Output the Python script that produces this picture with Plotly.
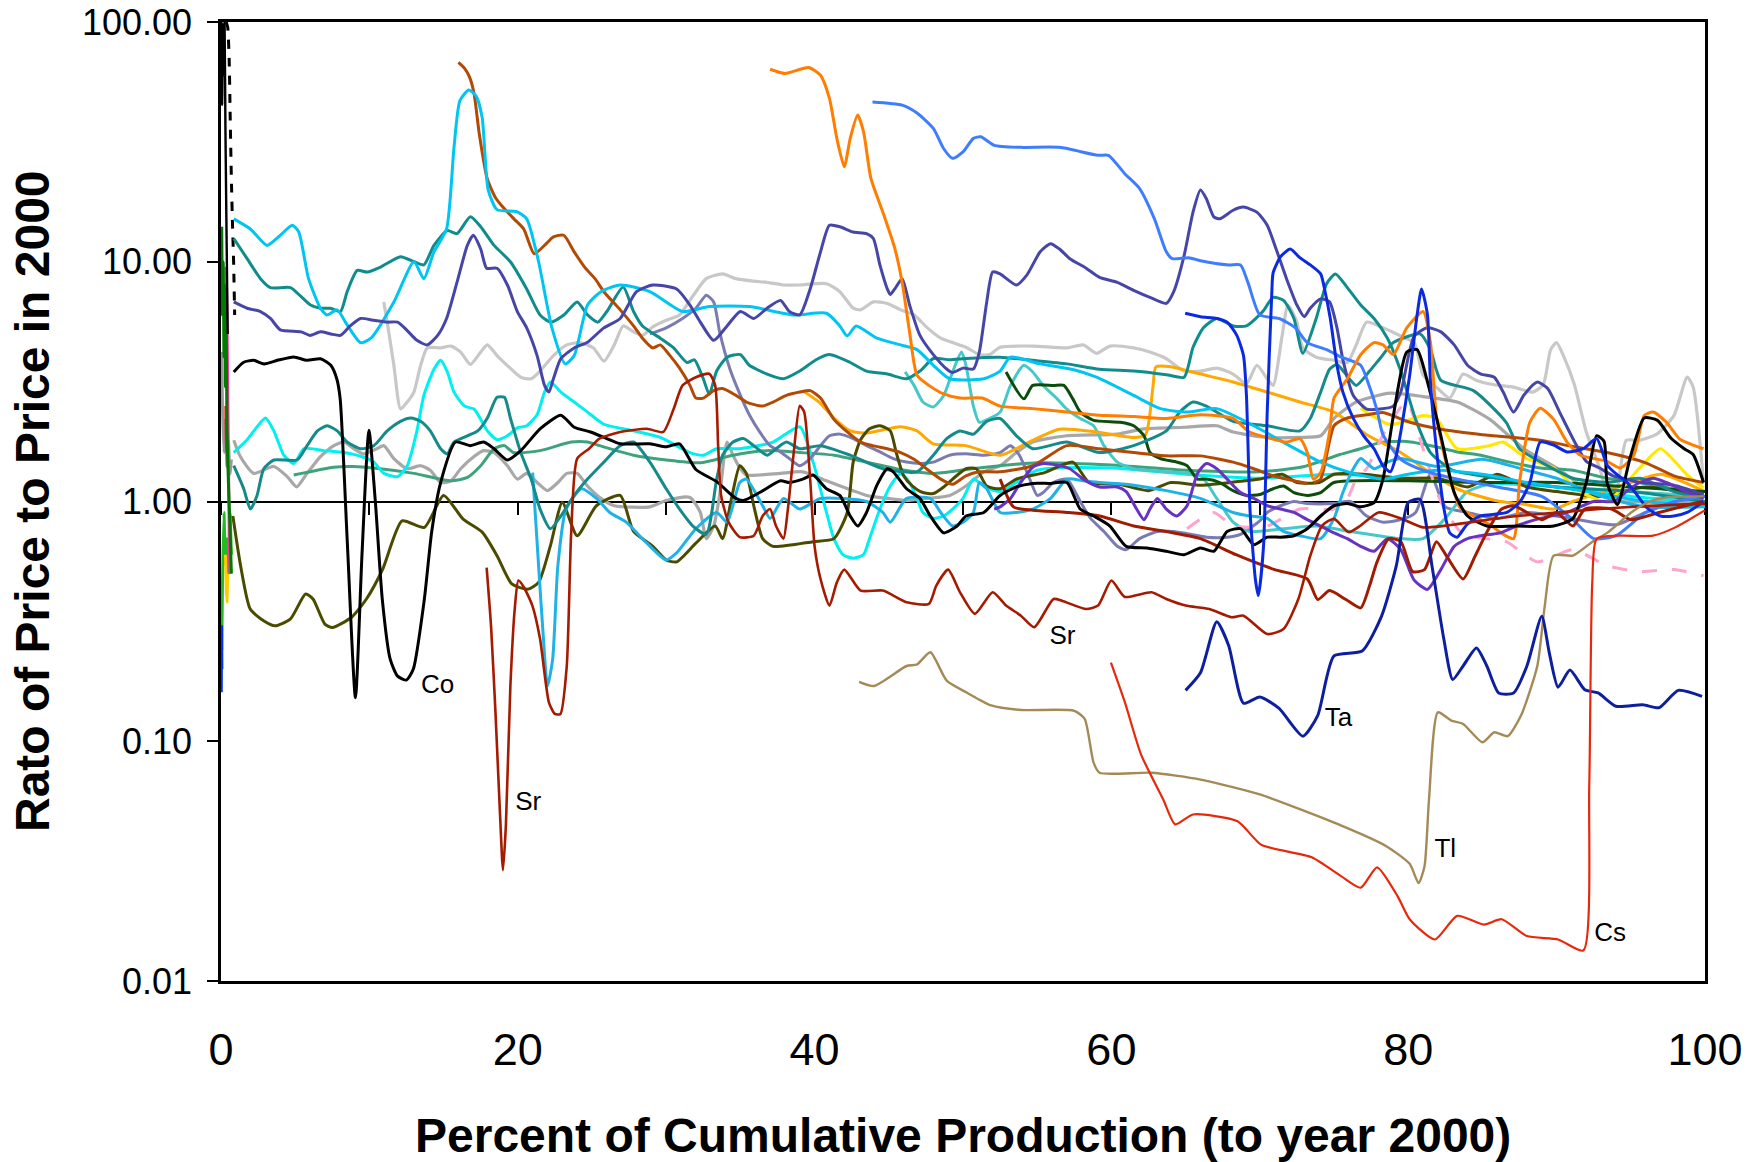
import plotly.graph_objects as go

# Each series: list of (percent of cumulative production, price / price in 2000)

co = [(0.86,3.47),(1.53,3.81),(2.2,3.88),(2.9,3.75),(3.8,3.88),(4.9,4.01),(5.8,3.88),(6.7,3.94),(7.4,3.70),(7.8,3.25),
      (8.03,2.68),(8.5,0.7),(9.06,0.152),(9.5,0.6),(9.97,1.98),(10.4,1.0),(10.87,0.39),(11.4,0.22),(11.9,0.187),(12.5,0.18),
      (12.96,0.2),(13.7,0.39),(14.2,0.75),(14.8,1.2),(15.8,1.77),(16.8,1.71),(17.7,1.77),(18.4,1.66),(19.3,1.49),(20.2,1.63),
      (21.5,2.01),(22.9,2.29),(23.8,2.04),(24.9,1.95),(26.0,1.83),(26.9,1.74),(28.9,1.74),(30.0,1.69),(30.9,1.74),(32.0,1.36),
      (33.4,1.21),(34.7,1.03),(35.2,1.01),(36.3,1.09),(37.7,1.22),(38.3,1.20),(39.2,1.24),(39.9,1.29),(40.8,1.13),(41.7,1.06),
      (42.4,0.87),(42.9,0.79),(43.5,0.90),(44.2,1.17),(44.9,1.37),(45.3,1.33),(46.2,1.13),(47.1,1.03),(47.8,0.87),(48.7,0.74),
      (49.6,0.79),(50.2,0.87),(51.4,0.90),(52.5,1.06),(53.6,1.15),(54.7,1.19),(55.9,1.19),(57.0,1.20),(57.9,0.93),(58.8,0.87),
      (59.9,0.79),(61.0,0.65),(62.4,0.64),(63.7,0.62),(64.9,0.60),(66.0,0.64),(66.9,0.62),(67.8,0.75),(68.7,0.77),(69.6,0.66),
      (70.5,0.71),(71.4,0.71),(72.3,0.72),(73.2,0.77),(74.1,0.87),(75.0,0.96),(75.9,0.98),(76.8,0.95),(77.7,0.99),(78.3,1.24),
      (79.0,2.28),(79.9,4.2),(80.6,4.3),(81.3,3.15),(82.2,1.88),(83.1,1.09),(84.0,0.87),(85.3,0.79),(87.3,0.79),(89.8,0.79),
      (91.1,0.85),(92.0,1.2),(92.7,1.88),(93.2,1.78),(93.4,1.2),(94.1,0.97),(95.0,1.56),(95.9,2.23),(96.8,2.18),(97.7,1.84),
      (98.6,1.66),(99.2,1.57),(99.9,1.2)]

sr = [(17.9,0.53),(18.2,0.3),(18.5,0.13),(18.8,0.05),(19.0,0.029),(19.2,0.045),(19.5,0.17),(19.8,0.36),(20.04,0.468),
      (20.4,0.44),(20.98,0.368),(21.5,0.267),(22.1,0.145),(22.5,0.13),(22.87,0.13),(23.3,0.206),(23.6,0.745),(24.0,1.51),
      (24.8,1.66),(25.5,1.83),(26.9,1.95),(28.7,2.01),(29.8,1.95),(30.5,2.43),(31.1,3.05),(32.0,3.30),(32.9,3.41),(33.3,3.05),
      (33.5,1.71),(33.7,1.06),(34.2,0.82),(34.96,0.71),(35.9,0.72),(36.5,0.87),(37.0,0.93),(37.4,0.79),(37.9,0.70),(38.2,0.93),
      (38.6,1.61),(39.0,2.51),(39.3,2.36),(39.7,1.24),(40.0,0.65),(40.4,0.475),(41.0,0.368),(41.5,0.46),(42.0,0.52),(43.1,0.425),
      (44.6,0.425),(46.2,0.38),(47.7,0.374),(48.2,0.446),(49.0,0.52),(49.8,0.418),(50.8,0.34),(52.0,0.418),(52.9,0.368),
      (53.9,0.334),(54.8,0.299),(56.1,0.392),(56.7,0.385),(58.3,0.356),(59.1,0.368),(60.0,0.468),(60.9,0.40),(62.7,0.418),
      (63.7,0.392),(65.0,0.368),(66.6,0.356),(68.1,0.329),(68.9,0.334),(70.5,0.28),(71.6,0.294),(72.6,0.392),(73.4,0.594),
      (74.2,0.794),(75.0,0.846),(76.0,0.745),(76.8,0.794),(78.0,0.9),(79.5,0.85),(81.0,0.78),(83.0,0.8),(86.0,0.85),(90.0,0.9),
      (95.0,0.95),(100.0,0.98)]

cs = [(59.97,0.213),(60.9,0.146),(62.0,0.088),(63.5,0.057),(64.3,0.045),(65.5,0.0495),(68.5,0.0464),(70.1,0.037),
      (73.5,0.0328),(75.5,0.0273),(76.8,0.0245),(77.9,0.0298),(79.3,0.0225),(80.1,0.0181),(81.8,0.0149),(83.3,0.0187),
      (85.1,0.0172),(86.3,0.0181),(88.0,0.0154),(90.1,0.0149),(91.8,0.0134),(92.2,0.065),(92.4,0.454),(92.7,0.70),
      (94.2,0.72),(96.5,0.72),(98.0,0.78),(100.0,0.92)]

tl = [(43.0,0.177),(44.0,0.170),(46.2,0.206),(46.9,0.209),(47.8,0.235),(48.9,0.179),(50.3,0.159),(51.9,0.141),(53.9,0.135),
      (57.5,0.134),(58.2,0.124),(58.8,0.0814),(59.2,0.0739),(62.7,0.0739),(66.0,0.0692),(70.0,0.060),(75.5,0.0445),
      (78.5,0.0366),(80.1,0.0308),(80.7,0.0256),(81.1,0.0301),(81.4,0.057),(82.0,0.132),(82.9,0.122),(83.7,0.118),
      (85.0,0.099),(85.8,0.109),(86.7,0.105),(87.6,0.128),(88.7,0.206),(89.2,0.366),(89.8,0.595),(91.1,0.595),(92.4,0.678),
      (93.5,0.747),(95.0,0.897),(96.1,0.99),(97.4,1.04),(99.9,1.05)]

ta = [(65.0,0.163),(66.0,0.193),(67.1,0.315),(67.9,0.251),(68.9,0.144),(70.0,0.153),(71.3,0.137),(72.9,0.105),(73.9,0.128),
      (75.0,0.227),(76.9,0.238),(78.2,0.332),(79.2,0.54),(80.0,0.99),(80.8,1.02),(81.6,0.54),(82.4,0.267),(83.0,0.181),
      (83.7,0.206),(84.6,0.245),(85.3,0.206),(86.1,0.159),(87.1,0.159),(88.0,0.206),(89.0,0.332),(89.5,0.235),(90.1,0.168),
      (90.9,0.198),(91.9,0.164),(92.8,0.159),(94.0,0.14),(95.8,0.142),(96.9,0.138),(98.2,0.163),(99.8,0.154)]

sky = [(0.86,15.1),(1.98,13.7),(3.1,11.7),(4.0,12.9),(4.8,14.2),(5.24,13.3),(5.9,8.5),(6.7,6.4),(7.15,6.0),(7.83,6.3),
       (8.5,5.45),(9.4,4.6),(10.1,4.8),(11.65,6.8),(13.0,10.0),(13.67,8.5),(14.35,11.0),(15.2,13.7),(15.7,30),(16.1,47),
       (16.7,52),(17.2,49),(17.6,40),(18.0,20),(18.6,16.5),(19.9,16.2),(20.6,15.1),(21.4,10),(22.3,5.3),(23.2,3.75),
       (23.8,4.06),(24.7,6.6),(25.6,7.5),(26.9,8.0),(28.9,7.5),(31.1,6.2),(32.9,6.5),(35.6,6.5),(38.6,6.0),(40.8,6.1),
       (41.7,5.4),(42.2,4.9),(42.8,5.4),(44.2,4.8),(45.8,4.5),(46.9,4.3),(48.0,3.7),(49.1,3.25),(51.4,3.25),(52.5,3.5),
       (53.2,4.0),(55.2,3.75),(57.4,3.55),(59.0,3.3),(61.5,2.77),(63.3,2.44),(65.1,2.36),(67.1,2.44),(69.6,2.07),(72.0,1.71),
       (74.1,1.46),(76.1,1.32),(78.3,1.24),(80.0,1.3),(82.0,1.35),(85.0,1.3),(88.0,1.2),(92.0,1.1),(96.0,1.0),(100.0,0.95)]

teal_hi = [(0.86,12.5),(1.76,10.3),(2.66,8.5),(3.33,7.8),(4.68,7.8),(5.35,7.2),(6.03,6.6),(6.7,6.4),(7.38,6.4),(8.05,6.2),
           (8.5,7.5),(9.18,9.2),(9.85,9.06),(10.75,9.5),(12.1,10.5),(13.0,10.0),(13.67,9.7),(14.35,11.7),(15.25,13.5),
           (15.9,13.1),(16.8,15.4),(17.5,14.0),(18.4,11.7),(19.5,10.0),(20.6,7.7),(21.5,6.0),(22.2,5.6),(23.1,6.0),(24.0,6.8),
           (24.7,6.0),(25.4,5.6),(26.0,6.2),(27.1,7.85),(27.8,6.2),(28.4,5.4),(29.6,4.8),(30.5,4.37),(31.4,3.8),(31.9,3.9),
           (32.5,3.25),(32.9,2.8),(33.4,3.5),(34.1,4.0),(35.0,4.1),(35.6,3.7),(36.8,3.4),(37.9,3.25),(39.0,3.5),(40.1,3.9),
           (41.0,4.1),(42.4,3.8),(43.5,3.5),(44.9,3.4),(46.2,3.25),(47.1,3.5),(48.0,3.95),(49.1,3.9),(50.2,3.95),(52.5,4.0),
           (54.7,3.88),(57.0,3.75),(59.2,3.56),(61.5,3.5),(63.7,3.38),(64.9,3.3),(65.5,4.4),(66.2,5.3),(67.1,5.8),(68.2,5.4),
           (69.1,5.4),(70.2,6.2),(70.9,7.1),(71.6,6.9),(72.3,5.8),(72.9,4.15),(73.8,5.8),(74.5,8.1),(75.1,8.9),(75.9,7.8),
           (76.8,6.6),(77.7,5.8),(78.6,4.8),(79.5,3.5),(80.5,2.2),(81.5,1.6),(83.0,1.35),(86.0,1.25),(90.0,1.15),(95.0,1.1),
           (100.0,1.0)]

teal_lo = [(0.86,1.41),(1.53,1.13),(1.98,0.93),(2.43,1.06),(2.88,1.37),(3.56,1.49),(5.13,1.49),(5.8,1.71),(6.5,1.97),
           (7.15,2.07),(7.83,1.97),(8.5,1.77),(9.4,1.66),(10.3,1.71),(11.2,1.97),(12.1,2.16),(12.8,2.23),(13.45,2.16),
           (14.1,1.97),(14.8,1.66),(15.25,1.58),(15.7,1.77),(17.3,1.97),(17.95,2.23),(18.6,2.72),(19.1,2.72),(19.5,2.23),
           (20.2,1.6),(20.9,1.24),(21.5,0.93),(22.2,0.77),(22.9,0.87),(23.8,1.06),(24.7,1.24),(25.8,1.46),(26.9,1.71),
           (27.8,1.77),(28.9,1.46),(30.0,1.13),(30.9,0.93),(31.8,0.79),(32.7,0.73),(33.4,1.24),(33.8,1.56),(34.5,1.77),
           (35.2,1.83),(35.9,1.71),(36.8,1.56),(37.4,1.66),(38.1,1.77),(39.0,1.66),(40.4,1.71),(42.4,1.56),(44.6,1.37),
           (46.9,1.33),(48.0,1.56),(48.9,1.83),(49.8,1.97),(50.7,1.91),(51.6,2.16),(52.5,2.22),(53.6,1.88),(54.7,1.66),
           (57.0,1.77),(59.2,1.6),(61.5,1.71),(63.7,1.97),(64.6,2.36),(65.5,2.6),(66.4,2.5),(68.2,2.16),(70.5,2.07),(72.7,1.97),
           (73.4,2.22),(74.1,2.86),(74.7,3.56),(75.2,3.73),(75.9,3.33),(76.5,3.05),(77.4,3.5),(78.1,3.95),(79.0,4.6),(80.8,5.0),
           (81.5,4.3),(82.2,3.2),(84.4,2.9),(86.6,2.14),(87.5,1.66),(89.4,1.41),(91.1,1.25),(93.4,1.2),(95.6,1.25),(97.9,1.1),
           (99.9,1.03)]

slate = [(0.86,6.8),(1.76,6.4),(2.66,6.2),(3.33,5.8),(4.0,5.2),(5.4,5.1),(6.0,4.93),(6.7,5.1),(7.4,5.0),(8.05,4.93),(8.7,5.4),
         (9.4,5.8),(10.3,5.7),(11.2,5.6),(11.9,5.6),(12.5,5.2),(13.2,4.7),(13.9,4.5),(14.6,4.93),(15.2,5.8),(15.9,8.2),
         (16.6,11.7),(17.0,12.9),(17.5,11.3),(17.9,9.4),(18.6,9.4),(19.3,8.0),(19.97,6.2),(20.6,5.3),(21.3,4.06),(21.8,3.05),
         (22.1,2.86),(22.4,3.25),(22.9,3.94),(23.8,4.37),(24.7,4.62),(25.8,5.3),(26.9,5.8),(28.0,7.5),(29.1,8.0),(30.7,7.7),
         (31.6,6.6),(32.3,5.6),(33.2,4.7),(34.1,5.4),(35.0,6.2),(35.9,5.8),(36.8,6.4),(37.7,6.9),(38.3,6.2),(39.0,6.0),
         (39.7,7.7),(40.4,11.0),(41.0,14.2),(41.7,14.0),(42.6,13.3),(43.5,13.1),(43.96,12.5),(44.4,9.7),(44.9,7.7),(45.1,7.3),
         (45.4,7.7),(45.9,8.5),(46.4,6.6),(47.1,4.93),(48.0,4.1),(48.9,3.57),(49.3,3.45),(50.0,3.6),(50.7,3.57),(51.1,4.2),
         (51.6,6.8),(52.0,9.06),(52.5,8.9),(53.6,8.0),(54.3,8.8),(55.2,11.0),(55.9,11.9),(56.5,11.3),(57.2,10.3),(58.3,9.4),
         (59.2,8.6),(60.4,8.2),(61.5,7.6),(62.6,7.1),(63.7,6.7),(64.2,7.5),(64.9,10.6),(65.5,16.1),(66.0,19.9),(66.4,18.3),
         (66.9,15.4),(67.3,15.1),(68.2,16.4),(68.9,16.9),(69.8,16.1),(70.5,14.2),(71.1,11.3),(71.8,8.5),(72.5,6.6),(73.0,5.9),
         (73.4,6.4),(74.1,7.0),(74.7,6.8),(75.2,5.3),(75.6,3.9),(76.3,2.77),(77.2,2.43),(78.1,2.43),(79.0,2.5),(79.5,2.86),
         (80.4,4.9),(81.3,5.3),(82.2,5.1),(83.1,4.5),(84.0,3.7),(84.9,3.4),(85.8,3.3),(86.4,2.86),(87.1,2.36),(87.8,2.78),
         (88.7,3.15),(89.4,2.96),(90.2,2.36),(91.2,1.78),(92.0,1.47),(92.9,1.38),(93.8,1.28),(94.7,1.24),(95.6,1.2),
         (97.9,1.17),(99.9,1.07)]

royal = [(43.9,46.4),(45.9,45.0),(46.9,41.7),(48.0,36.0),(48.7,29.6),(49.3,27.0),(50.0,28.7),(50.7,32.7),(51.2,33.2),
         (52.1,30.6),(53.9,30.0),(56.5,30.0),(59.1,27.8),(59.8,27.8),(60.9,23.3),(61.9,20.2),(62.9,15.1),(63.7,11.0),
         (64.1,10.3),(65.2,10.4),(66.0,10.1),(67.9,9.7),(68.7,9.7),(69.2,8.2),(70.0,6.0),(71.3,5.8),(72.4,5.3),(73.2,4.6),
         (74.5,4.3),(75.5,4.0),(76.8,3.7),(77.4,3.0),(77.9,2.4),(78.3,1.9),(79.5,1.5),(81.0,1.35),(83.0,1.25),(86.0,1.15),
         (89.0,1.05),(91.0,0.85),(92.5,0.7),(94.0,0.72),(96.0,0.9),(98.0,1.0),(100.0,1.05)]

orange = [(37.0,63.5),(38.0,61.0),(39.6,64.6),(40.4,60.0),(41.0,48.0),(41.5,32.7),(42.0,24.9),(42.4,32.7),(42.9,40.9),
          (43.3,34.8),(43.8,22.2),(44.6,16.1),(45.4,11.4),(45.9,8.2),(46.4,5.1),(46.9,3.36),(47.7,3.05),(48.7,2.81),
          (49.8,2.7),(51.3,2.7),(52.5,2.5),(54.7,2.44),(57.0,2.36),(59.2,2.29),(61.5,2.26),(63.7,2.22),(66.0,2.3),(68.2,2.22),
          (69.3,1.95),(70.5,1.85),(71.8,1.77),(72.7,1.83),(73.2,1.6),(73.6,1.24),(74.1,1.32),(74.7,1.95),(75.0,2.7),
          (75.9,3.25),(76.8,4.1),(77.7,4.6),(78.3,4.5),(79.0,4.1),(79.9,5.3),(81.0,6.2),(81.5,4.6),(81.9,2.28),(82.6,1.41),
          (83.5,0.94),(84.4,0.87),(85.5,0.80),(86.4,0.73),(87.1,0.70),(87.5,1.2),(88.2,2.14),(88.9,2.45),(89.8,2.2),
          (90.7,1.77),(91.6,1.56),(93.4,1.47),(94.3,1.38),(95.2,1.56),(95.9,2.28),(96.5,2.36),(97.4,2.14),(98.3,1.82),
          (99.2,1.72),(99.9,1.66)]

brown = [(16.0,67.8),(16.4,64.2),(16.75,58.9),(17.06,50),(17.4,34.3),(17.94,22.2),(18.5,18.5),(19.07,16.7),(19.74,15.1),
         (20.4,13.7),(21.1,10.8),(21.8,11.7),(22.4,12.7),(23.1,12.9),(23.8,11.0),(24.5,9.5),(25.2,8.5),(25.8,7.5),(26.9,6.3),
         (27.8,5.4),(28.4,4.8),(29.1,4.37),(29.6,4.5),(30.2,4.1),(30.9,3.6),(31.6,3.05),(32.0,2.7),(32.5,2.7),(33.2,2.9),
         (33.8,2.96),(34.7,2.77),(35.4,2.6),(36.5,2.5),(37.2,2.6),(38.1,2.77),(39.0,2.86),(39.7,2.9),(40.4,2.7),(41.3,2.2),
         (42.2,1.95),(43.1,1.77),(43.9,1.71),(44.9,1.66),(45.8,1.6),(46.7,1.5),(47.6,1.36),(48.5,1.24),(49.3,1.18),(50.2,1.28),
         (51.1,1.33),(52.5,1.33),(54.7,1.41),(57.0,1.71),(59.2,1.66),(61.5,1.6),(63.7,1.55),(66.0,1.55),(68.2,1.46),
         (69.6,1.37),(70.9,1.28),(72.3,1.22),(73.2,1.19)]

brown_b = [(73.6,1.2),(74.1,1.24),(75.0,2.07),(75.9,2.23),(77.2,2.3),(78.3,2.35),(80.0,2.15),(82.2,2.0),(85.0,1.9),
           (88.9,1.8),(91.0,1.7),(93.4,1.6),(96.0,1.45),(97.9,1.28),(99.9,1.2)]

silver = [(10.97,6.8),(11.2,5.6),(11.65,3.69),(12.1,2.43),(12.55,2.6),(13.0,2.86),(13.45,3.69),(13.9,4.37),(14.8,4.37),
          (15.5,4.45),(16.15,4.2),(16.8,3.73),(17.5,4.2),(17.95,4.5),(18.6,4.06),(19.3,3.69),(20.2,3.3),(20.9,3.25),(21.5,3.5),
          (22.4,4.06),(23.3,4.5),(24.2,4.6),(25.1,4.37),(25.8,3.85),(26.5,4.5),(27.1,5.4),(27.8,5.1),(28.4,4.93),(29.1,5.35),
          (30.0,5.7),(30.9,6.0),(31.8,7.2),(32.7,8.5),(33.8,8.9),(34.7,8.5),(35.9,8.3),(36.8,8.2),(37.9,8.0),(39.0,8.0),
          (40.8,8.1),(41.7,7.5),(42.6,6.4),(43.1,6.3),(43.96,6.8),(44.9,6.7),(45.8,6.3),(46.7,6.0),(47.6,5.3),(48.5,4.8),
          (49.3,4.6),(50.2,4.4),(51.1,4.1),(51.8,4.1),(52.5,4.4),(54.7,4.45),(57.0,4.37),(58.1,4.5),(59.0,4.15),(59.9,4.45),
          (61.5,4.37),(62.6,4.2),(63.7,3.94),(64.9,3.5),(66.0,3.5),(67.1,3.6),(68.2,3.4),(69.1,3.1),(69.8,3.7),(70.5,3.25),
          (70.9,3.05),(71.5,4.9),(71.9,6.6),(72.5,5.6),(72.9,4.37),(73.8,4.0),(75.0,3.88),(75.9,3.8),(76.5,4.5),(77.2,5.6),
          (78.3,5.3),(79.5,4.9),(80.4,4.6),(81.0,3.37),(81.9,3.0),(82.8,2.7),(83.7,3.4),(84.6,3.2),(85.8,3.07),(87.1,3.0),
          (88.4,2.86),(89.1,3.07),(89.6,4.3),(90.0,4.6),(90.5,4.0),(91.2,3.07),(92.0,1.95),(92.9,1.38),(93.6,1.0),(94.1,1.14),
          (94.7,1.8),(95.6,1.8),(96.8,1.92),(97.9,2.28),(98.8,3.3),(99.2,3.0),(99.9,1.2)]

gray = [(0.86,1.80),(1.3,1.54),(2.2,1.31),(3.56,1.40),(4.46,1.27),(5.1,1.15),(5.8,1.31),(6.7,1.54),(7.6,1.71),(8.3,1.77),
        (8.95,1.66),(9.6,1.58),(10.5,1.66),(10.97,1.71),(11.65,1.51),(12.55,1.37),(13.45,1.41),(14.1,1.35),(14.8,1.20),
        (15.5,1.22),(16.15,1.37),(17.05,1.54),(17.7,1.63),(18.4,1.60),(19.3,1.41),(19.97,1.24),(20.6,1.31),(21.3,1.2),
        (22.0,1.11),(22.7,1.2),(23.3,1.31),(24.0,1.31),(24.7,1.16),(25.6,1.03),(26.5,0.96),(28.9,0.95),(30.0,1.01),(31.6,1.04),
        (32.3,0.90),(32.7,0.70),(33.2,0.79),(33.6,1.06),(34.1,1.77),(34.5,1.56),(35.0,1.37),(35.4,1.29),(36.3,1.29),
        (37.7,1.31),(39.2,1.33),(40.8,1.22),(42.6,1.11),(43.5,1.06),(44.9,1.03),(46.2,1.01),(47.6,1.03),(49.1,1.06),
        (50.2,1.16),(51.4,1.33),(52.5,1.41),(53.6,1.6),(54.7,1.77),(57.0,1.88),(60.4,1.91),(62.2,2.01),(64.9,2.04),
        (67.1,2.07),(68.2,1.95),(70.5,1.85),(72.7,1.85),(74.1,1.88),(75.0,2.22),(76.5,2.6),(78.8,2.83),(81.0,2.74),(83.3,2.6),
        (85.5,2.2),(87.8,1.66),(90.0,1.38),(92.3,1.1),(94.5,1.0),(97.9,1.0),(99.9,0.97)]

aqua = [(0.86,1.6),(1.76,1.81),(2.43,2.05),(3.0,2.23),(3.56,1.97),(4.23,1.56),(4.9,1.44),(5.6,1.66),(6.9,1.63),(8.3,1.6),
        (9.6,1.53),(10.3,1.46),(10.97,1.31),(11.9,1.27),(12.55,1.41),(13.2,1.97),(13.67,2.77),(14.35,3.56),(14.8,3.88),
        (15.25,3.47),(15.7,2.86),(16.4,2.5),(17.05,2.43),(17.5,2.2),(17.95,1.97),(18.6,1.81),(19.3,1.88),(19.97,2.03),
        (20.6,2.07),(21.3,2.3),(21.8,2.86),(22.2,3.15),(22.9,2.86),(23.8,2.6),(24.7,2.36),(25.8,2.1),(27.8,1.97),(29.6,1.85),
        (31.6,1.6),(32.5,1.56),(33.4,1.66),(34.96,1.66),(37.2,1.77),(39.0,2.05),(39.9,1.46),(40.8,0.90),(41.3,0.70),
        (41.9,0.60),(42.6,0.58),(43.3,0.60),(43.7,0.70),(44.4,0.93),(45.1,1.16),(45.8,1.31),(46.4,1.2),(46.9,1.03),
        (47.3,0.90),(48.0,0.85),(48.7,0.87),(49.3,0.93),(50.0,1.03),(50.7,1.24),(51.4,1.16),(52.5,1.1),(55.0,1.35),
        (60.0,1.38),(65.0,1.3),(70.0,1.25),(75.0,1.3),(80.0,1.25),(85.0,1.2),(90.0,1.15),(95.0,1.05),(100.0,1.0)]

olive = [(0.8,0.87),(1.32,0.54),(1.97,0.356),(2.87,0.318),(3.64,0.303),(4.67,0.323),(5.7,0.411),(6.2,0.392),(7.0,0.308),
         (7.5,0.298),(8.8,0.329),(9.8,0.392),(10.9,0.523),(12.2,0.83),(13.7,0.78),(15.0,1.06),(16.3,0.846),(17.6,0.745),
         (18.6,0.594),(19.6,0.453),(20.7,0.431),(21.4,0.46),(22.2,0.655),(23.0,0.99),(24.0,0.72),(25.3,0.96),(26.9,1.06),
         (27.8,0.75),(29.1,0.65),(30.0,0.57),(30.7,0.56),(32.0,0.67),(33.3,0.79),(33.8,0.70),(34.4,1.03),(34.96,1.41),
         (35.4,1.31),(35.9,0.96),(36.5,0.70),(37.2,0.65),(39.9,0.68),(41.3,0.70),(42.2,0.90),(42.6,1.46),(43.1,1.81),
         (43.7,2.01),(44.4,2.07),(45.1,1.97),(45.5,1.6),(46.0,1.28),(46.6,1.16),(47.3,1.09),(48.0,1.08),(48.7,1.15),
         (49.3,1.24),(50.2,1.37),(50.9,1.37),(51.6,1.16),(52.5,1.13),(53.6,1.24),(55.5,1.32),(57.4,1.46),(58.5,1.2),
         (60.5,1.18),(62.5,1.11),(64.0,1.2),(66.0,1.17),(68.0,1.2),(70.0,1.24),(71.5,1.3),(72.5,1.2),(74.0,1.2),(75.0,1.3),
         (77.0,1.3),(79.5,1.25),(82.0,1.25),(84.0,1.15),(86.0,1.3),(88.0,1.15),(90.0,1.1),(93.0,1.05),(96.0,1.15),(100.0,1.05)]

seagreen = [(4.9,1.29),(7.6,1.39),(8.95,1.4),(10.3,1.38),(13.0,1.31),(15.5,1.22),(16.6,1.26),(17.5,1.41),(18.4,1.66),
            (19.1,1.71),(19.7,1.6),(21.5,1.63),(23.6,1.77),(24.7,1.77),(25.5,1.71),(27.8,1.56),(30.0,1.49),(32.3,1.45),
            (34.5,1.56),(36.8,1.63),(39.0,1.6),(41.3,1.56),(43.5,1.46),(45.8,1.36),(48.0,1.31),(50.2,1.36),(52.5,1.41),
            (55.0,1.45),(60.0,1.42),(65.0,1.35),(70.0,1.33),(73.0,1.4),(75.4,1.57),(76.8,1.66),(78.1,1.76),(79.9,1.78),
            (81.7,1.7),(83.3,1.61),(84.9,1.56),(86.6,1.47),(88.9,1.38),(91.1,1.35),(93.4,1.25),(95.6,1.2),(97.9,1.13),(99.9,1.07)]

lightblue = [(21.0,1.32),(21.4,0.54),(21.7,0.284),(22.0,0.17),(22.35,0.22),(22.7,0.54),(23.25,0.93),(24.3,1.13),(25.3,1.03),
             (26.2,0.9),(27.3,0.82),(28.7,0.67),(30.0,0.57),(30.7,0.61),(32.0,0.77),(33.4,0.90),(34.1,0.82),(34.96,1.2),
             (35.4,1.24),(36.5,0.96),(37.0,0.85),(37.9,1.03),(39.0,0.93),(40.4,1.03),(43.5,1.0),(44.6,0.90),(45.1,0.82),
             (46.2,1.03),(47.8,1.03),(48.5,0.90),(49.3,0.79),(50.0,0.82),(50.7,0.90),(51.1,1.2),(51.6,1.13),(52.5,0.9),
             (53.6,0.9),(54.7,0.93),(55.9,1.03),(57.0,1.24),(58.1,1.22),(59.2,1.2),(61.5,1.17),(63.7,1.11),(66.0,1.03),
             (68.2,0.90),(69.3,0.87),(70.5,0.85),(71.6,0.75),(72.7,0.72),(74.1,0.70),(75.0,0.85),(75.6,1.09),(76.3,1.37),
             (76.8,1.51),(77.7,1.37),(78.6,1.46),(79.5,1.51),(82.0,1.4),(85.0,1.5),(88.0,1.35),(90.0,1.25),(93.0,1.05),
             (96.0,0.95),(100.0,0.95)]

darkgreen = [(52.9,3.47),(54.1,2.68),(54.7,3.05),(56.1,3.05),(56.8,3.05),(57.4,2.68),(57.9,2.36),(58.8,2.18),(60.6,2.14),
             (61.5,2.07),(62.2,1.88),(62.6,1.6),(63.3,1.51),(64.4,1.46),(65.1,1.41),(65.8,1.24),(66.4,1.24),(67.3,1.2),
             (68.2,1.11),(69.1,1.06),(70.0,1.07),(70.9,1.13),(71.6,1.16),(72.3,1.09),(73.2,1.06),(74.1,1.09),(75.0,1.2),
             (80.0,1.22),(85.0,1.2),(90.0,1.2),(95.0,1.15),(100.0,1.1)]

turquoise = [(46.1,3.47),(46.7,3.05),(47.3,2.6),(48.0,2.48),(48.7,2.77),(49.3,3.47),(49.9,4.2),(50.2,3.7),(50.7,2.5),
             (51.1,2.14),(51.8,2.22),(52.5,2.36),(53.2,3.05),(54.1,3.7),(54.7,3.47),(55.4,3.05),(56.3,2.7),(57.0,2.43),
             (57.9,2.22),(58.8,2.07),(59.5,1.71),(60.4,1.46),(61.5,1.37),(63.7,1.33),(66.0,1.28),(67.1,1.03),(68.2,0.82),
             (69.3,0.75),(71.6,0.77),(73.8,0.79),(76.1,0.75),(79.5,0.70),(81.0,0.7),(82.5,0.85),(84.0,1.1),(86.0,1.2),
             (90.0,1.15),(95.0,1.1),(100.0,1.05)]

lavender = [(28.9,5.0),(30.0,5.3),(31.1,5.8),(32.0,6.4),(32.7,7.25),(33.2,6.8),(33.6,5.1),(34.3,3.56),(35.0,2.77),(35.6,2.3),
            (36.3,1.95),(37.0,1.71),(37.7,1.61),(38.3,1.51),(39.0,1.41),(39.7,1.51),(40.4,1.71),(41.0,1.88),(41.7,1.91),
            (42.6,1.83),(43.5,1.71),(44.4,1.61),(45.3,1.51),(46.2,1.46),(47.1,1.44),(48.0,1.46),(49.1,1.56),(50.2,1.58),
            (51.4,1.56),(52.5,1.6),(53.2,1.71),(53.8,1.56),(54.5,1.24),(55.0,1.06),(55.4,1.09),(56.1,1.2),(57.0,1.24),
            (57.9,1.0),(58.6,0.85),(59.5,0.75),(60.4,0.65),(61.0,0.63),(61.9,0.70),(63.1,0.75),(64.2,0.75),(65.3,0.73),
            (66.4,0.71),(67.8,0.71),(68.7,0.73),(70.0,0.83),(70.5,0.9),(71.4,0.96),(72.3,1.0),(73.2,0.98),(75.0,0.98),
            (76.1,1.0),(77.2,0.87),(78.3,0.82),(79.5,0.84),(80.5,0.9),(81.5,1.3),(82.5,0.95),(84.0,0.9),(86.0,0.85),
            (88.0,0.9),(91.0,0.85),(94.0,0.8),(96.0,0.9),(98.0,1.0),(100.0,1.05)]

purple = [(52.1,0.93),(52.5,0.95),(53.2,1.03),(53.8,1.18),(54.7,1.39),(55.4,1.44),(56.3,1.42),(57.2,1.37),(58.1,1.24),
          (59.2,1.15),(60.4,1.15),(61.0,1.1),(61.7,0.93),(62.2,0.84),(62.6,0.93),(63.1,1.03),(63.7,0.93),(64.4,0.87),
          (65.1,0.96),(65.8,1.31),(66.4,1.44),(67.1,1.37),(67.8,1.24),(68.7,1.09),(69.6,1.03),(70.5,0.96),(71.4,0.93),
          (72.3,0.90),(73.2,0.84),(74.1,0.79),(75.0,0.74),(75.9,0.70),(76.8,0.65),(77.7,0.62),(78.6,0.70),(79.5,0.63),
          (80.4,0.47),(81.3,0.43),(82.2,0.52),(83.1,0.65),(84.0,0.7),(84.9,0.72),(86.2,0.74),(87.5,0.8),(88.9,0.85),
          (90.7,0.9),(92.5,1.0),(93.9,1.0),(94.7,1.1),(95.6,1.2),(96.5,1.25),(97.4,1.2),(98.3,1.13),(99.2,1.07),(99.9,1.03)]

blue = [(64.97,6.1),(66.0,5.9),(67.1,5.8),(67.8,5.6),(68.45,4.93),(68.9,4.06),(69.1,2.77),(69.35,0.90),(69.7,0.475),
        (69.9,0.405),(70.25,0.65),(70.5,2.36),(70.8,7.2),(70.9,9.0),(71.4,10.5),(72.05,11.3),(72.7,10.4),(73.4,9.7),
        (74.1,8.9),(74.4,7.5),(74.75,5.8),(75.2,3.7),(75.6,2.86),(76.3,2.22),(77.0,1.88),(77.7,1.66),(78.3,1.41),(78.8,1.33),
        (79.2,1.56),(79.5,1.95),(80.1,3.36),(80.6,6.0),(80.9,7.7),(81.3,6.0),(81.5,3.15),(81.9,1.66),(82.4,0.94),(82.8,0.74),
        (83.3,0.71),(83.95,0.80),(84.85,0.87),(86.65,0.9),(87.55,1.0),(88.2,1.2),(88.9,1.77),(89.8,1.72),(90.7,1.61),
        (91.8,1.66),(92.7,1.83),(93.4,1.42),(94.1,1.29),(94.7,1.21),(95.4,1.07),(96.1,0.94),(97.0,0.87),(97.9,0.87),
        (98.8,0.9),(99.9,1.0)]

maroon = [(52.5,1.24),(53.4,0.95),(54.7,0.92),(57.0,0.9),(59.2,0.87),(61.5,0.79),(63.7,0.75),(66.0,0.7),(68.4,0.6),
          (71.0,0.52),(73.2,0.475),(73.9,0.39),(74.7,0.425),(75.8,0.39),(76.8,0.36),(77.4,0.446),(77.9,0.56),(78.7,0.70),
          (79.5,0.68),(80.3,0.51),(81.1,0.52),(81.9,0.68),(82.6,0.59),(83.7,0.475),(84.5,0.59),(85.3,0.745),(86.3,0.93),
          (87.1,0.96),(89.0,0.84),(90.0,0.9),(91.1,0.79),(91.9,0.93),(93.7,0.93),(95.0,0.84),(96.9,0.9),(99.8,1.0)]

pink = [(65.1,0.77),(66.9,0.9),(68.2,0.79),(70.5,0.79),(72.7,0.93),(75.0,0.93),(75.9,1.03),(76.5,1.24),(77.2,1.37),
        (78.5,2.0),(79.9,2.6),(81.0,1.66),(82.2,1.0),(83.7,0.73),(86.6,0.68),(88.7,0.56),(91.1,0.63),(93.4,0.54),
        (95.6,0.51),(97.9,0.52),(99.9,0.49)]

yellow = [(76.8,2.45),(78.8,2.09),(81.0,2.28),(81.9,2.22),(83.3,1.66),(85.5,1.71),(86.4,1.77),(88.0,1.51),(89.8,1.38),
          (91.6,1.1),(93.4,1.0),(95.6,1.38),(97.0,1.66),(98.8,1.29),(99.9,1.14)]

amber = [(39.2,2.9),(40.3,2.6),(41.3,2.23),(42.4,1.97),(43.5,1.93),(45.8,2.05),(46.9,1.97),(48.0,1.74),(50.2,1.71),
         (52.5,1.56),(54.7,1.8),(56.5,2.0),(59.0,1.95),(61.5,1.85),(62.3,1.9),(62.8,3.0),(63.0,3.64),(64.0,3.65),(66.0,3.4),
         (68.2,3.15),(70.5,2.86),(72.7,2.6),(75.0,2.36),(77.2,1.9),(79.5,1.6),(81.7,1.29),(83.3,1.13),(84.4,1.07),
         (86.2,1.0),(88.0,0.97),(89.8,0.93),(91.1,1.0),(92.5,1.07),(95.0,1.2),(97.0,1.3),(100.0,1.1)]

# short, very volatile records close to zero cumulative production
early_black = [(0.02,100),(0.08,45),(0.12,98),(0.18,60),(0.24,100),(0.3,35),(0.38,12),(0.45,5)]
early_dashed = [(0.35,100),(0.45,95),(0.55,70),(0.62,40),(0.7,22),(0.78,14),(0.85,10),(0.92,6)]
early_green = [(0.05,14),(0.1,6),(0.15,10),(0.2,4),(0.25,8),(0.3,3),(0.35,6),(0.4,2),(0.5,1.2),(0.6,0.8),(0.7,0.5)]
early_pink = [(0.35,9.5),(0.4,6),(0.45,3),(0.5,1.5),(0.55,0.8),(0.6,0.5)]
early_gray = [(0.05,4.2),(0.1,2.5),(0.2,1.6),(0.3,2.2),(0.4,1.4),(0.5,1.8),(0.6,1.3),(0.7,1.5)]
early_yellow = [(0.3,0.6),(0.35,0.45),(0.4,0.38),(0.45,0.5)]
early_lime = [(0.05,0.24),(0.1,0.45),(0.2,0.9),(0.3,0.55),(0.4,0.7),(0.5,0.5),(0.6,0.9),(0.7,0.6)]
early_blue = [(0.02,0.16),(0.04,0.3),(0.06,0.2)]
early_red = [(0.3,2.5),(0.35,1.6),(0.4,2.0),(0.5,1.2)]

# element labels
label_text = ["Co", "Sr", "Sr", "Ta", "Tl", "Cs"]
label_x = [14.6, 20.7, 56.7, 75.3, 82.5, 93.6]
label_y = [0.170, 0.055, 0.27, 0.123, 0.035, 0.0156]

x_ticks = [0, 20, 40, 60, 80, 100]
y_ticks = [0.01, 0.1, 1, 10, 100]
y_tick_text = ["0.01", "0.10", "1.00", "10.00", "100.00"]

FONT = "Liberation Sans, Arial, sans-serif"
W = 3.0

series = [
    (early_gray, "#9a9a9a", W, "solid"),
    (early_lime, "#22bb22", W, "solid"),
    (early_yellow, "#ffcc00", W, "solid"),
    (early_blue, "#0033ff", W, "solid"),
    (early_red, "#ee2200", 2.2, "solid"),
    (early_pink, "#ff33aa", W, "solid"),
    (early_green, "#007a00", W, "solid"),
    (early_black, "#000000", 2.4, "solid"),
    (early_dashed, "#000000", W, "dash"),
    (silver, "#c8c8c8", 3.2, "solid"),
    (gray, "#a8a8a8", 3.2, "solid"),
    (seagreen, "#3ea37c", W, "solid"),
    (aqua, "#00f0f0", W, "solid"),
    (lavender, "#7b7bb3", W, "solid"),
    (turquoise, "#46c8c8", W, "solid"),
    (amber, "#ffa800", W, "solid"),
    (olive, "#4b4b00", W, "solid"),
    (darkgreen, "#0c4d0c", W, "solid"),
    (pink, "#ffa3cf", W, "longdash"),
    (yellow, "#ffe800", 3.2, "solid"),
    (lightblue, "#1fb2e6", W, "solid"),
    (teal_lo, "#168a8a", W, "solid"),
    (teal_hi, "#0f8c8c", W, "solid"),
    (brown, "#b24a05", W, "solid"),
    (brown_b, "#b24a05", W, "solid"),
    (sky, "#00c4f2", W, "solid"),
    (slate, "#4646a8", W, "solid"),
    (royal, "#3f7dff", W, "solid"),
    (orange, "#ff7d00", W, "solid"),
    (purple, "#6634c0", W, "solid"),
    (maroon, "#a01c00", W, "solid"),
    (co, "#000000", W, "solid"),
    (blue, "#0b2ae0", W, "solid"),
    (sr, "#a51b00", 2.6, "solid"),
    (tl, "#a48a56", 2.4, "solid"),
    (ta, "#0d1f9e", W, "solid"),
    (cs, "#e8280a", 2.2, "solid"),
]

fig = go.Figure()

# empty trace that carries the overlaid axis drawn along the ratio = 1 level
fig.add_trace(go.Scatter(x=[], y=[], xaxis="x2", yaxis="y", mode="lines",
                         showlegend=False, hoverinfo="skip"))

for pts, color, width, dash in series:
    xs = [p[0] for p in pts]
    ys = [p[1] for p in pts]
    fig.add_trace(go.Scatter(
        x=xs, y=ys, mode="lines",
        line=dict(color=color, width=width, dash=dash, shape="spline", smoothing=0.6),
        hoverinfo="skip", showlegend=False,
    ))

fig.add_trace(go.Scatter(
    x=label_x, y=label_y, mode="text", text=label_text,
    textfont=dict(family=FONT, size=26, color="black"),
    hoverinfo="skip", showlegend=False,
))

fig.update_layout(
    template="none",
    width=1763, height=1162,
    margin=dict(l=221, r=58, t=22, b=181, autoexpand=False),
    paper_bgcolor="white", plot_bgcolor="white",
    font=dict(family=FONT, color="black"),
    showlegend=False,
    xaxis=dict(
        range=[0, 100], tickvals=x_ticks, ticks="", showgrid=False, zeroline=False, automargin=False,
        showline=True, linecolor="black", linewidth=2.5, mirror=True,
        tickfont=dict(family=FONT, size=45, color="black"), ticklabelstandoff=27,
    ),
    xaxis2=dict(
        overlaying="x", anchor="free", position=0.5, side="bottom", automargin=False,
        range=[0, 100], tick0=0, dtick=10, ticks="outside", ticklen=12, tickwidth=2,
        tickcolor="black", showline=True, linecolor="black", linewidth=2,
        showticklabels=False, showgrid=False, zeroline=False, layer="below traces",
    ),
    yaxis=dict(
        type="log", range=[-2, 2], tickvals=y_ticks, ticktext=y_tick_text, automargin=False,
        ticks="outside", ticklen=11, tickwidth=2, tickcolor="black",
        showgrid=False, zeroline=False, showline=True, linecolor="black", linewidth=2.5, mirror=True,
        tickfont=dict(family=FONT, size=36, color="black"), ticklabelstandoff=8,
    ),
    annotations=[
        dict(text="<b>Percent of Cumulative Production (to year 2000)</b>",
             xref="paper", yref="paper", x=0.5, y=-0.1616, xanchor="center", yanchor="middle",
             showarrow=False, font=dict(family=FONT, size=48, color="black")),
        dict(text="<b>Rato of Price to Price in 2000</b>",
             xref="paper", yref="paper", x=-0.127, y=0.5, xanchor="center", yanchor="middle",
             textangle=-90, showarrow=False, font=dict(family=FONT, size=48, color="black")),
    ],
)

fig.write_html("out.html")
